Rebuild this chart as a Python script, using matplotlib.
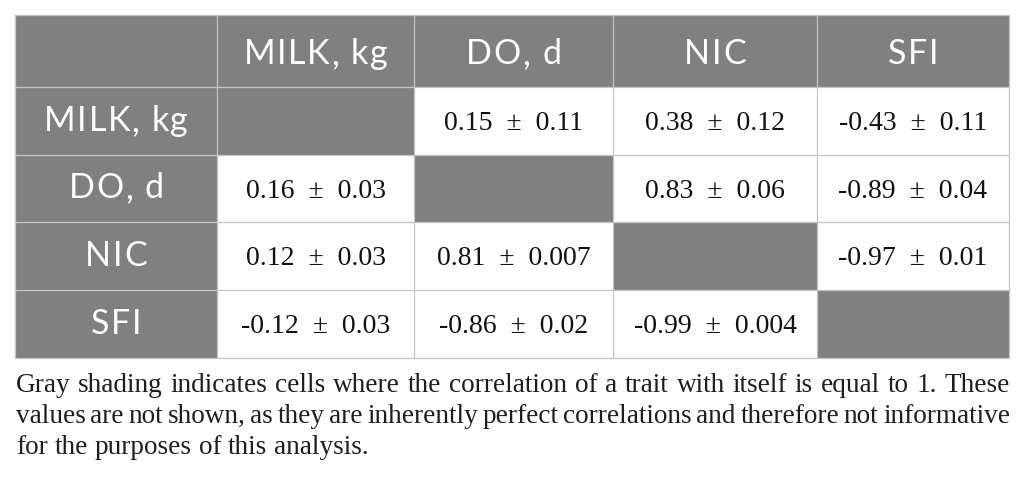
import matplotlib
matplotlib.use("Agg")
import matplotlib.pyplot as plt
from matplotlib.patches import Rectangle

# ---- data ----
traits = ["MILK, kg", "DO, d", "NIC", "SFI"]
estimates = [
    [None, "0.15", "0.38", "-0.43"],
    ["0.16", None, "0.83", "-0.89"],
    ["0.12", "0.81", None, "-0.97"],
    ["-0.12", "-0.86", "-0.99", None],
]
errors = [
    [None, "0.11", "0.12", "0.11"],
    ["0.03", None, "0.06", "0.04"],
    ["0.03", "0.007", None, "0.01"],
    ["0.03", "0.02", "0.004", None],
]
caption_lines = [
    "Gray shading indicates cells where the correlation of a trait with itself is equal to 1. These",
    "values are not shown, as they are inherently perfect correlations and therefore not informative",
    "for the purposes of this analysis.",
]

# ---- layout ----
W, H = 1025, 484
col_edges = [15, 217, 414, 613, 817, 1009]
row_edges = [15, 87, 155, 222, 290, 358]
GRAY = "#808080"
LINE = "#c4c4c4"
HEAD_FONT = "Lato"
BODY_FONT = "Liberation Serif"
HEAD_SIZE = 24.5
TRACK = 1.6  # px of extra letter spacing in header labels

fig = plt.figure(figsize=(W / 100, H / 100), dpi=100)
ax = fig.add_axes([0, 0, 1, 1])
ax.set_xlim(0, W)
ax.set_ylim(H, 0)
ax.axis("off")
fig.canvas.draw()
renderer = fig.canvas.get_renderer()


def text_width(s, **kw):
    t = ax.text(0, 0, s, **kw)
    w = t.get_window_extent(renderer).width
    t.remove()
    return w


def tracked_text(cx, y, s, track, **kw):
    prefix = [0.0]
    bar = text_width("|", **kw)
    for i in range(1, len(s) + 1):
        prefix.append(text_width(s[:i] + "|", **kw) - bar)
    total = prefix[-1] + track * (len(s) - 1)
    x0 = cx - total / 2
    for i, ch in enumerate(s):
        if ch == " ":
            continue
        ax.text(x0 + prefix[i] + track * i, y, ch, ha="left", va="baseline", **kw)


n = len(traits)
hkw = dict(color="white", fontsize=HEAD_SIZE, family=HEAD_FONT, zorder=3)
for r in range(n + 1):
    for c in range(n + 1):
        x0, x1 = col_edges[c], col_edges[c + 1]
        y0, y1 = row_edges[r], row_edges[r + 1]
        header = (r == 0) or (c == 0)
        diag = (r > 0 and c > 0 and r == c)
        fc = GRAY if (header or diag) else "white"
        ax.add_patch(Rectangle((x0, y0), x1 - x0, y1 - y0, facecolor=fc,
                               edgecolor="none", zorder=1))
        cx, cy = (x0 + x1) / 2, (y0 + y1) / 2
        if r == 0 and c > 0:
            tracked_text(cx, cy + 13, traits[c - 1], TRACK, **hkw)
        elif c == 0 and r > 0:
            tracked_text(cx, cy + 10, traits[r - 1], TRACK, **hkw)
        elif not diag and r > 0 and c > 0:
            s = f"{estimates[r-1][c-1]}  \u00b1  {errors[r-1][c-1]}"
            ax.text(cx, cy + 9, s, ha="center", va="baseline", color="#111111",
                    fontsize=20, family=BODY_FONT, zorder=3)

# grid lines
for x in col_edges:
    ax.plot([x, x], [row_edges[0], row_edges[-1]], color=LINE, lw=0.9, zorder=2,
            solid_capstyle="butt")
for y in row_edges:
    ax.plot([col_edges[0], col_edges[-1]], [y, y], color=LINE, lw=0.9, zorder=2,
            solid_capstyle="butt")

# caption, justified
left, right = 16, 1010
baselines = [392, 423, 454]
ref_w = text_width(caption_lines[0], fontsize=10, family=BODY_FONT)
cap_size = 10 * 982 / ref_w
ckw = dict(fontsize=cap_size, family=BODY_FONT, color="#1e1e1e")
space_w = text_width("a a", **ckw) - text_width("aa", **ckw)
for i, line in enumerate(caption_lines):
    words = line.split(" ")
    widths = [text_width(w, **ckw) for w in words]
    if i < len(caption_lines) - 1:
        gap = (right - left - sum(widths)) / (len(words) - 1)
    else:
        gap = space_w
    x = left
    for w, wd in zip(words, widths):
        ax.text(x, baselines[i], w, ha="left", va="baseline", **ckw)
        x += wd + gap

fig.savefig("out.png", dpi=100)
